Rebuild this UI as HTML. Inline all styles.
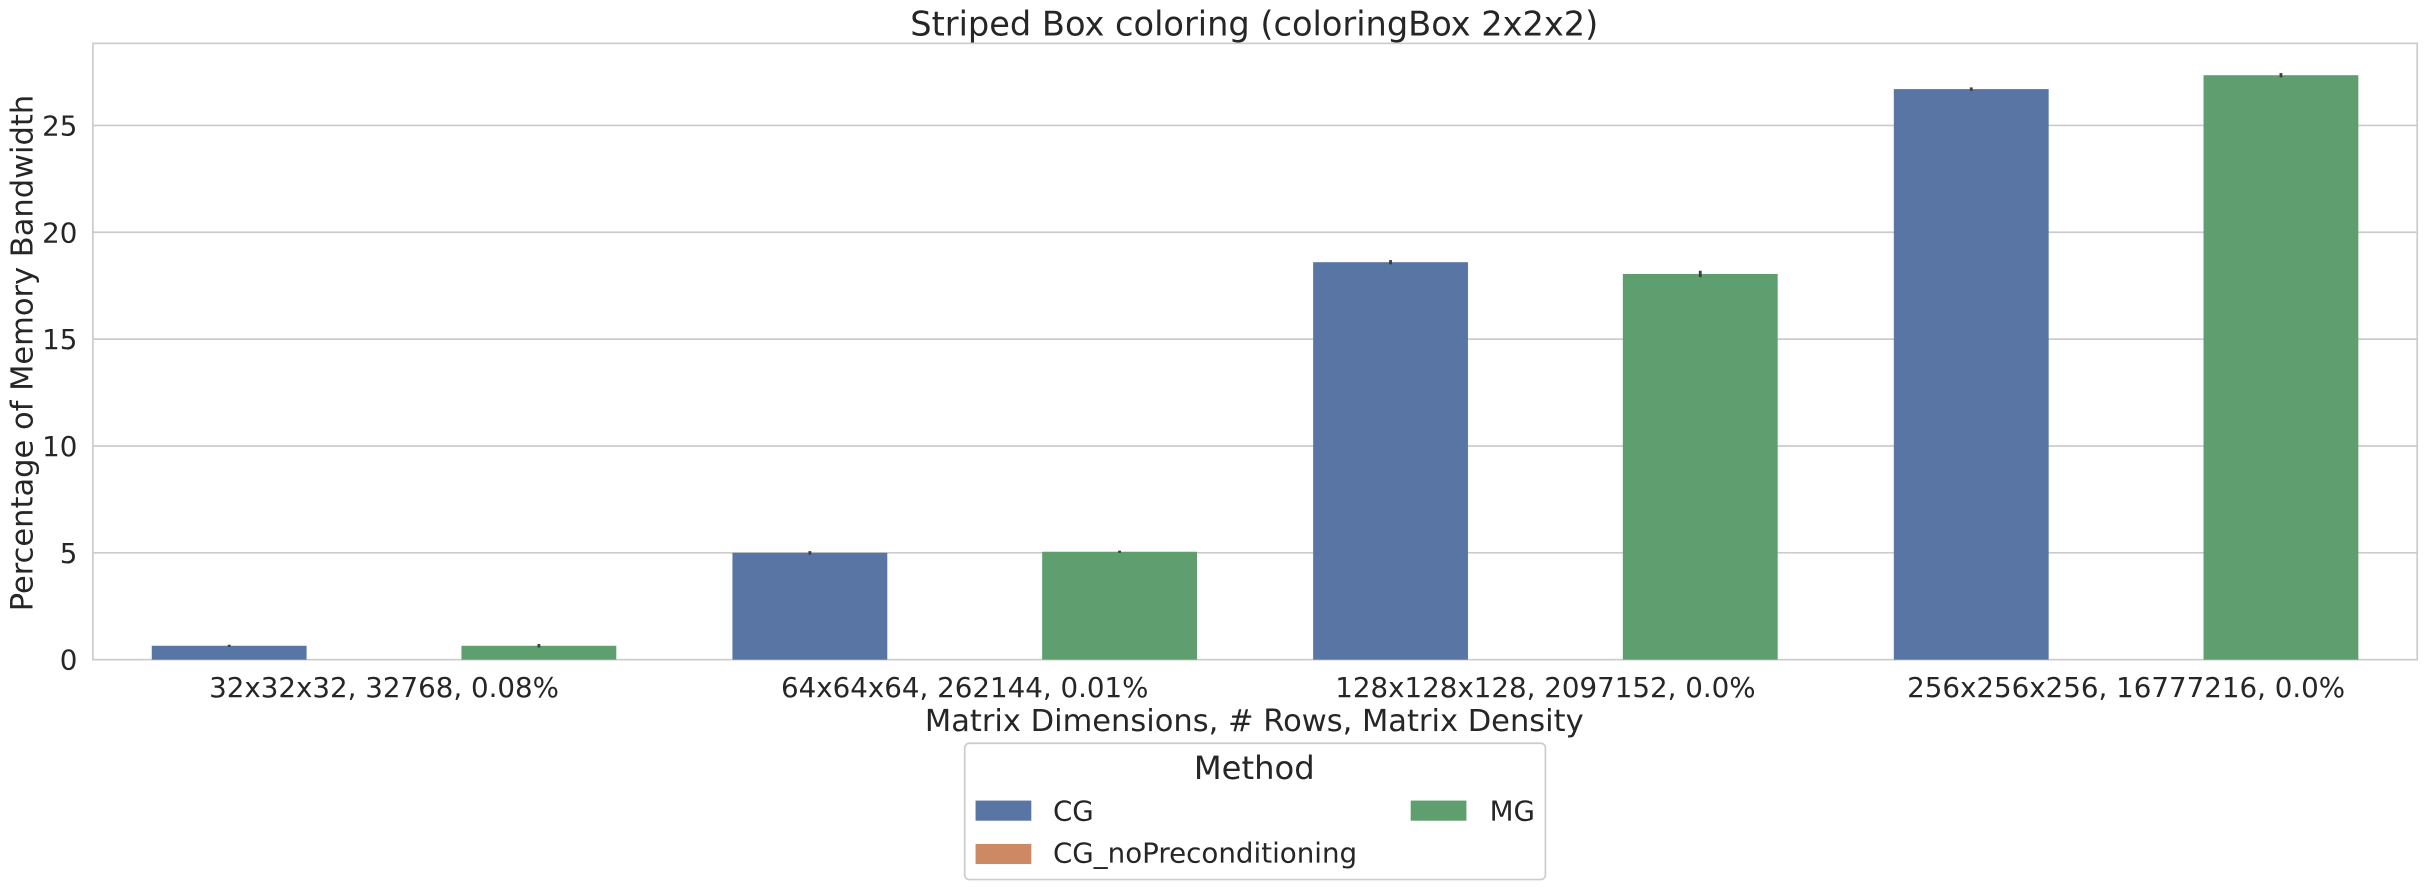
<!DOCTYPE html>
<html><head><meta charset="utf-8"><style>
body{margin:0;background:#fff;}
svg text{font-family:"DejaVu Sans","Liberation Sans",sans-serif;fill:#262626;}
</style></head><body>
<svg width="2428" height="890" xmlns="http://www.w3.org/2000/svg">
<rect width="2428" height="890" fill="#fff"/>
<g transform="scale(1.5485)">
<g id="grid"></g>
<rect x="60" y="28" width="1501" height="398" fill="none" stroke="#cccccc" stroke-width="1.1"/>
<g id="bars"></g>
<g id="yticks"></g>
<g id="xticks"></g>
<text x="810" y="23" font-size="21.7" text-anchor="middle">Striped Box coloring (coloringBox 2x2x2)</text>
<text x="810" y="472" font-size="19.7" text-anchor="middle">Matrix Dimensions, # Rows, Matrix Density</text>
<text transform="translate(21,228) rotate(-90)" font-size="19.7" text-anchor="middle">Percentage of Memory Bandwidth</text>
<g>
<rect x="623" y="480" width="375" height="88" rx="3" fill="#fff" stroke="#cccccc" stroke-width="1.1"/>
<text x="810" y="503" font-size="20.8" text-anchor="middle">Method</text>
<rect x="630" y="517" width="36" height="13" fill="#5975a4"/>
<text x="680" y="530" font-size="17.9">CG</text>
<rect x="630" y="545" width="36" height="13" fill="#cc8963"/>
<text x="680" y="557" font-size="17.9">CG_noPreconditioning</text>
<rect x="911" y="517" width="36" height="13" fill="#5f9e6e"/>
<text x="962" y="530" font-size="17.9">MG</text>
</g>
</g>
</svg>
<script>
const categories=["32x32x32, 32768, 0.08%","64x64x64, 262144, 0.01%","128x128x128, 2097152, 0.0%","256x256x256, 16777216, 0.0%"];
const seriesNames=["CG","CG_noPreconditioning","MG"];
const cgValues=[0.65,5.0,18.6,26.7];
const cgNoPrecValues=[0,0,0,0];
const mgValues=[0.65,5.05,18.05,27.35];
const cgErr=[0.05,0.08,0.1,0.08];
const mgErr=[0.08,0.05,0.15,0.1];
const yTicks=[0,5,10,15,20,25];
const NS="http://www.w3.org/2000/svg";
const y0=426,pxPer=13.8;
function yScale(v){return y0-v*pxPer;}
function xCenter(i){return 248+i*375;}
const colors=["#5975a4","#cc8963","#5f9e6e"];
const grid=document.getElementById('grid'),bars=document.getElementById('bars'),yt=document.getElementById('yticks'),xt=document.getElementById('xticks');
function mk(tag,attrs,parent){const e=document.createElementNS(NS,tag);for(const k in attrs)e.setAttribute(k,attrs[k]);parent.appendChild(e);return e;}
yTicks.forEach(t=>{
  const y=yScale(t);
  if(t>0){const l=mk('line',{x1:60,x2:1561,y1:y,y2:y,stroke:'#cccccc','stroke-width':1.1},grid);
  
  }
  const tx=mk('text',{x:50,y:y+6.5,'font-size':17.9,'text-anchor':'end'},yt);
  tx.textContent=t;
  
  
});
categories.forEach((c,i)=>{
  const tx=mk('text',{x:xCenter(i),y:450,'font-size':17.9,'text-anchor':'middle'},xt);
  tx.textContent=c;
  
  
});
const all=[cgValues,cgNoPrecValues,mgValues],errs=[cgErr,null,mgErr];
all.forEach((vals,s)=>{
  vals.forEach((v,i)=>{
    if(v<=0)return;
    const cx=xCenter(i)+(s-1)*100;
    const r=mk('rect',{x:cx-50,y:yScale(v),width:100,height:y0-yScale(v),fill:colors[s]},bars);
    
    
    if(errs[s]){const e=errs[s][i];
      const l=mk('line',{x1:cx,x2:cx,y1:yScale(v+e),y2:yScale(v-e),stroke:'#3d3d3d','stroke-width':1.8},bars);
      
      }
  });
});
</script>
</body></html>
